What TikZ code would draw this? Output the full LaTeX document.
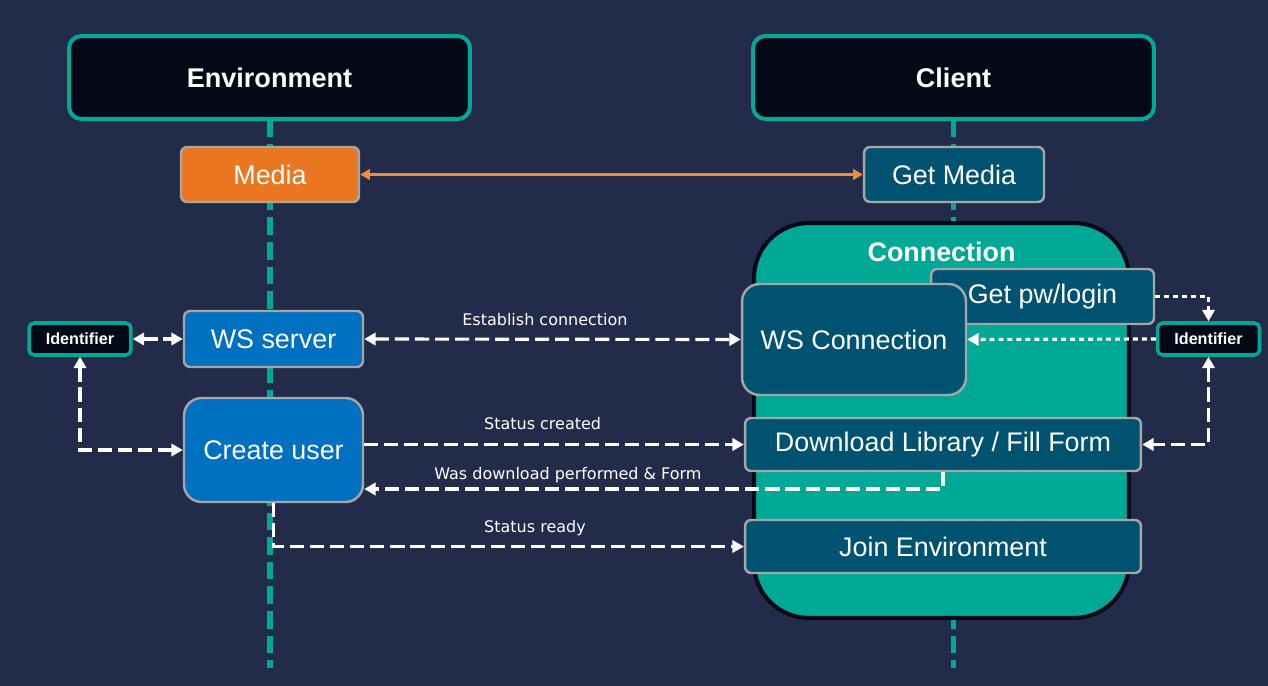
\documentclass[tikz,border=0pt]{standalone}
\usepackage{fontspec}
\setmainfont{Liberation Sans}
\newfontfamily\lblfont{DejaVu Sans}
\usetikzlibrary{arrows.meta, positioning, calc}
\definecolor{bgnavy}{RGB}{35,43,74}
\definecolor{tealline}{RGB}{0,168,150}
\definecolor{nearblack}{RGB}{5,8,22}
\definecolor{srvblue}{RGB}{0,112,192}
\definecolor{clidark}{RGB}{0,83,112}
\definecolor{mediaorange}{RGB}{234,118,33}
\definecolor{orangeline}{RGB}{242,140,60}
\definecolor{boxgray}{RGB}{166,166,166}

\begin{document}
\begin{tikzpicture}[
x=0.02cm, y=-0.02cm,
>={Triangle[length=6.5pt,width=7pt]},
every node/.style={text=white},
actor/.style={draw=tealline, line width=2.3pt, fill=nearblack, rounded corners=7pt, minimum width=8.02cm, minimum height=1.66cm, font=\bfseries\fontsize{15.4}{18}\selectfont},
stepbox/.style={draw=boxgray, line width=1.4pt, rounded corners=3.5pt, minimum height=1.1cm, inner sep=0pt, font=\fontsize{15.3}{18}\selectfont},
idbox/.style={draw=tealline, line width=2pt, fill=nearblack, rounded corners=3pt, minimum width=2.04cm, minimum height=0.64cm, inner sep=0pt, font=\bfseries\fontsize{9.2}{11}\selectfont},
lifeline/.style={draw=tealline, line width=3.4pt, dash pattern=on 10pt off 4pt},
flow/.style={draw=white, line width=1.8pt, dash pattern=on 8pt off 3.4pt},
dots/.style={draw=white, line width=1.8pt, dash pattern=on 2.8pt off 2.3pt},
msg/.style={font=\lblfont\fontsize{9.1}{11}\selectfont, inner sep=0pt, text depth=0pt},
]
\fill[bgnavy] (0,0) rectangle (1268,686);
\useasboundingbox (0,0) rectangle (1268,686);

% lifelines
\coordinate (envtop) at (270,119);
\coordinate (envend) at (270,668);
\coordinate (clitop) at (953.5,119);
\coordinate (cliend) at (953.5,668);
\draw[lifeline] (envtop) -- (envend);
\draw[lifeline] (clitop) -- (cliend);

\node[actor] (env) at (269.5,77.5) {Environment};
\node[actor] (cli) at (953.5,77.5) {Client};

\node[stepbox, fill=mediaorange, minimum width=3.56cm] (media) at (270,174.5) {Media};
\node[stepbox, fill=clidark, minimum width=3.6cm] (gm) at (954,174.5) {Get Media};

% connection block
\node[draw=nearblack, line width=2.3pt, fill=tealline, rounded corners=1.1cm, minimum width=7.5cm, minimum height=7.9cm] (conn) at (941.5,420.5) {};
\node[font=\bfseries\fontsize{15.3}{18}\selectfont, inner sep=0pt, below=0.42cm of conn.north] (conntitle) {Connection};
\node[stepbox, fill=clidark, minimum width=4.46cm] (pw) at (1042.5,296.5) {Get pw/login};
\node[stepbox, fill=clidark, minimum width=4.48cm, minimum height=2.22cm, rounded corners=10pt] (wsc) at (854,339.5) {WS Connection};
\node[stepbox, fill=clidark, minimum width=7.92cm, minimum height=1.06cm] (dl) at (943,444.5) {Download Library / Fill Form};
\node[stepbox, fill=clidark, minimum width=7.92cm, minimum height=1.06cm] (je) at (943,546.5) {Join Environment};

% server side
\node[stepbox, fill=srvblue, minimum width=3.58cm, minimum height=1.12cm] (ws) at (273.5,339) {WS server};
\node[stepbox, fill=srvblue, minimum width=3.58cm, minimum height=2.08cm, rounded corners=10pt] (cu) at (273.5,450) {Create user};

\node[idbox] (idl) at (80,339) {Identifier};
\node[idbox] (idr) at (1208.5,339) {Identifier};

% messages
\draw[<->, draw=orangeline, line width=1.5pt, >={Triangle[length=5.5pt,width=6pt]}] (media.east) -- (gm.west);
\draw[flow, <->] (idl.east) -- (ws.west);
\draw[flow, <->] (idl.south) |- (cu.west);
\draw[flow, <->] (ws.east) -- (wsc.west) node[msg, pos=0.48, above=6.8pt] {Establish connection};
\draw[flow, ->] (cu.east |- dl.west) -- (dl.west) node[msg, pos=0.47, above=7.4pt] {Status created};
\draw[flow, ->] (dl.south) |- ($(cu.east)+(0,39)$) node[msg, pos=0.824, above=4.5pt] {Was download performed \& Form};
\draw[flow, ->] (cu.south) |- (je.west) node[msg, pos=0.778, above=6.8pt] {Status ready};
\draw[dots, ->] (pw.east) -| (idr.north);
\draw[dots, ->] (idr.west) -- (wsc.east);
\draw[flow, <->] (idr.south) |- (dl.east);
\end{tikzpicture}
\end{document}
